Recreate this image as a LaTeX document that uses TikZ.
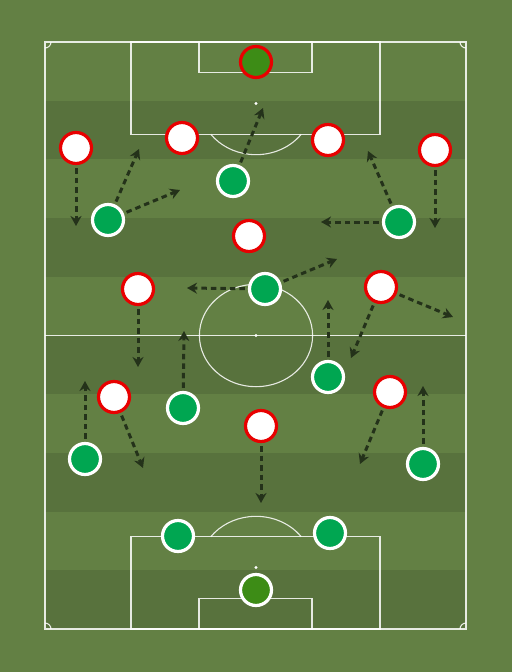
\documentclass[tikz,border=0pt]{standalone}
\usetikzlibrary{arrows.meta}
\definecolor{bgL}{RGB}{99,128,68}
\definecolor{bgD}{RGB}{88,114,61}
\definecolor{redB}{RGB}{232,0,0}
\definecolor{teamG}{RGB}{0,166,81}
\definecolor{gkG}{RGB}{61,140,22}
\definecolor{arr}{RGB}{36,50,26}
\begin{document}
\begin{tikzpicture}[x=1pt,y=-1pt,
  pline/.style={draw=white,draw opacity=0.85,line width=1.1pt},
  redp/.style={circle,draw=redB,fill=white,line width=3.2pt,minimum size=31pt,inner sep=0pt},
  redgk/.style={redp,fill=gkG},
  grnp/.style={circle,draw=white,fill=teamG,line width=3.2pt,minimum size=31pt,inner sep=0pt},
  grngk/.style={grnp,fill=gkG},
  move/.style={draw=arr,line width=3pt,dash pattern=on 5.5pt off 4pt,-{Stealth[length=10pt,width=11pt]},shorten <=3pt}
]
\useasboundingbox (0,0) rectangle (512,672);
\fill[bgL] (0,0) rectangle (512,672);
\foreach \i in {1,3,5,7,9}{
  \fill[bgD] (45,{42+\i*58.7}) rectangle (466,{42+(\i+1)*58.7});
}
% pitch lines
\draw[pline] (45,42) rectangle (466,629);
\draw[pline] (45,335.5) -- (466,335.5);
\draw[pline] (256,335.5) ellipse [x radius=56.6pt, y radius=51.2pt];
\draw[pline] (131,42) rectangle (380,134.3);
\draw[pline] (199,42) rectangle (312,72.7);
\draw[pline] (131,536.7) rectangle (380,629);
\draw[pline] (199,598.3) rectangle (312,629);
\draw[pline] (301.2,134.3) arc[start angle=-37,end angle=-143,x radius=56.6pt,y radius=51.2pt];
\draw[pline] (301.2,536.7) arc[start angle=37,end angle=143,x radius=56.6pt,y radius=51.2pt];
\draw[pline] (51,42) arc[start angle=0,end angle=-90,radius=6pt];
\draw[pline] (460,42) arc[start angle=180,end angle=270,radius=6pt];
\draw[pline] (51,629) arc[start angle=0,end angle=90,radius=6pt];
\draw[pline] (460,629) arc[start angle=180,end angle=90,radius=6pt];
\fill[white] (256,335.5) circle[radius=1.6pt];
\fill[white] (256,103.5) circle[radius=1.6pt];
\fill[white] (256,567.5) circle[radius=1.6pt];
% red team
\node[redgk] (rgk) at (256,62) {};
\node[redp] (r1) at (76,148) {};
\node[redp] (r2) at (182,138) {};
\node[redp] (r3) at (328,140) {};
\node[redp] (r4) at (435,150) {};
\node[redp] (r5) at (249,236) {};
\node[redp] (r6) at (138,289) {};
\node[redp] (r7) at (381,287) {};
\node[redp] (r8) at (114,397) {};
\node[redp] (r9) at (390,392) {};
\node[redp] (r10) at (261,426) {};
% green team
\node[grngk] (ggk) at (256,590) {};
\node[grnp] (g1) at (233,181) {};
\node[grnp] (g2) at (108,220) {};
\node[grnp] (g3) at (399,222) {};
\node[grnp] (g4) at (265,289) {};
\node[grnp] (g5) at (328,377) {};
\node[grnp] (g6) at (183,408) {};
\node[grnp] (g7) at (85,459) {};
\node[grnp] (g8) at (423,464) {};
\node[grnp] (g9) at (178,536) {};
\node[grnp] (g10) at (330,533) {};
% arrow targets
\coordinate (t1) at (263,108);
\coordinate (t2) at (76,226);
\coordinate (t3) at (139,149);
\coordinate (t4) at (180,190);
\coordinate (t5) at (368,151);
\coordinate (t6) at (321,222);
\coordinate (t7) at (435,228);
\coordinate (t8) at (187,288);
\coordinate (t9) at (337,259);
\coordinate (t10) at (453,317);
\coordinate (t11) at (351,358);
\coordinate (t12) at (138,367);
\coordinate (t13) at (328,300);
\coordinate (t14) at (184,331);
\coordinate (t15) at (85,381);
\coordinate (t16) at (143,468);
\coordinate (t17) at (360,464);
\coordinate (t18) at (423,386);
\coordinate (t19) at (261,503);
\draw[move] (g1) -- (t1);
\draw[move] (r1) -- (t2);
\draw[move] (g2) -- (t3);
\draw[move] (g2) -- (t4);
\draw[move] (g3) -- (t5);
\draw[move] (g3) -- (t6);
\draw[move] (r4) -- (t7);
\draw[move] (g4) -- (t8);
\draw[move] (g4) -- (t9);
\draw[move] (r7) -- (t10);
\draw[move] (r7) -- (t11);
\draw[move] (r6) -- (t12);
\draw[move] (g5) -- (t13);
\draw[move] (g6) -- (t14);
\draw[move] (g7) -- (t15);
\draw[move] (r8) -- (t16);
\draw[move] (r9) -- (t17);
\draw[move] (g8) -- (t18);
\draw[move] (r10) -- (t19);
\end{tikzpicture}
\end{document}
